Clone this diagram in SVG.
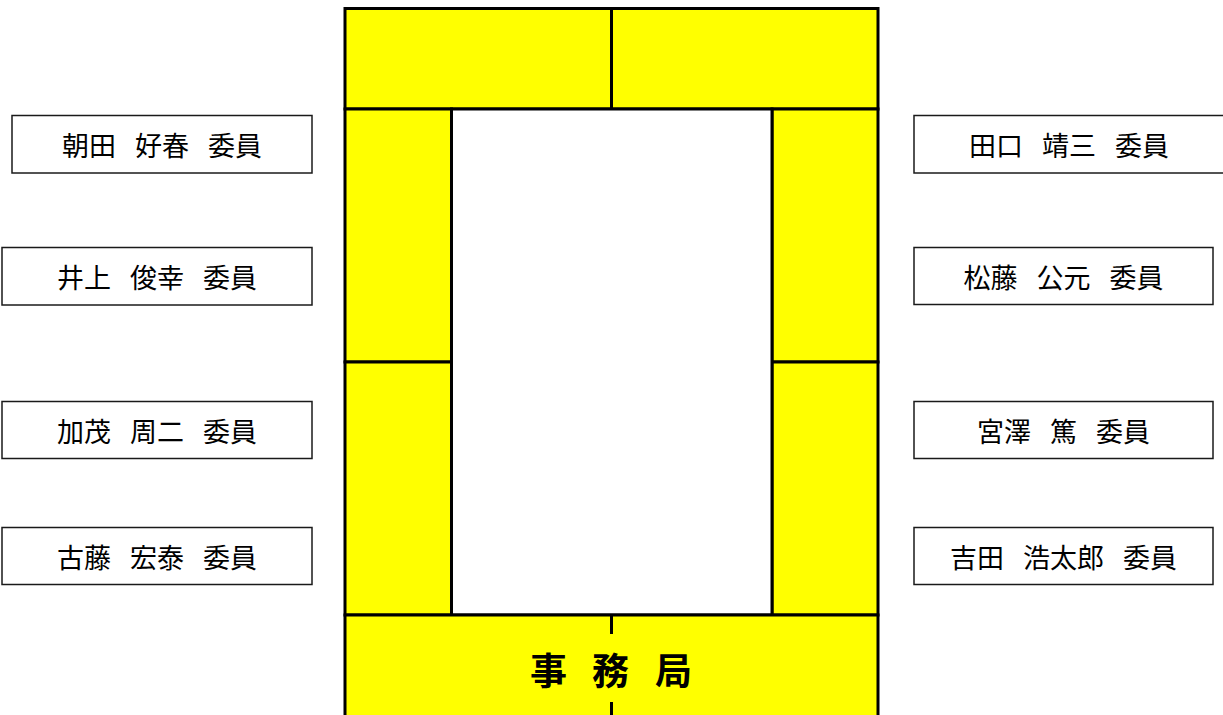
<svg xmlns="http://www.w3.org/2000/svg" width="1223" height="715" viewBox="0 0 1223 715">
<style>
.seat{fill:#FFFF00;stroke:#000;stroke-width:3}
.box{fill:#fff;stroke:#1a1a1a;stroke-width:1.5}
.lbl{font-family:"Noto Sans CJK JP","Noto Sans CJK SC",sans-serif;font-size:27px;fill:#000;text-anchor:middle;dominant-baseline:central}
.big{font-family:"Noto Sans CJK JP","Noto Sans CJK SC",sans-serif;font-size:37px;font-weight:bold;fill:#000;text-anchor:middle;dominant-baseline:central}
.dash{stroke:#000;stroke-width:3}
</style>
<rect width="1223" height="715" fill="#fff"/>
<g id="table">
<g id="top-left"><rect class="seat" x="345" y="8.5" width="266.5" height="100.5"/></g>
<g id="top-right"><rect class="seat" x="611.5" y="8.5" width="266.5" height="100.5"/></g>
<g id="left-upper"><rect class="seat" x="345" y="109" width="106.5" height="253"/></g>
<g id="left-lower"><rect class="seat" x="345" y="362" width="106.5" height="253"/></g>
<g id="right-upper"><rect class="seat" x="772" y="109" width="106" height="253"/></g>
<g id="right-lower"><rect class="seat" x="772" y="362" width="106" height="253"/></g>
<g id="center"><rect x="451.5" y="109" width="320.5" height="506" fill="#fff" stroke="#000" stroke-width="3"/></g>
<g id="secretariat">
<rect class="seat" x="345" y="615" width="533" height="110"/>
<line class="dash" x1="611.5" y1="615" x2="611.5" y2="634"/>
<line class="dash" x1="611.5" y1="702" x2="611.5" y2="715"/>
<text class="big" y="669"><tspan x="548.5">事</tspan><tspan x="610.5">務</tspan><tspan x="673.5">局</tspan></text>
</g>
</g>
<g id="connectors"></g>
<g id="member-asada"><rect class="box" x="12" y="115.5" width="300" height="57.5"/><text class="lbl" x="162" y="144">朝田<tspan dx="19">好春</tspan><tspan dx="19">委員</tspan></text></g>
<g id="member-inoue"><rect class="box" x="2" y="247.5" width="310" height="57.5"/><text class="lbl" x="157" y="276">井上<tspan dx="19">俊幸</tspan><tspan dx="19">委員</tspan></text></g>
<g id="member-kamo"><rect class="box" x="2" y="401.5" width="310" height="57"/><text class="lbl" x="157" y="430">加茂<tspan dx="19">周二</tspan><tspan dx="19">委員</tspan></text></g>
<g id="member-koto"><rect class="box" x="2" y="527.5" width="310" height="57"/><text class="lbl" x="157" y="556">古藤<tspan dx="19">宏泰</tspan><tspan dx="19">委員</tspan></text></g>
<g id="member-taguchi"><rect class="box" x="914" y="115.5" width="312" height="57.5"/><text class="lbl" x="1069" y="144">田口<tspan dx="19">靖三</tspan><tspan dx="19">委員</tspan></text></g>
<g id="member-matsufuji"><rect class="box" x="914" y="247.5" width="299" height="57"/><text class="lbl" x="1063.5" y="276">松藤<tspan dx="19">公元</tspan><tspan dx="19">委員</tspan></text></g>
<g id="member-miyazawa"><rect class="box" x="914" y="401.5" width="299" height="57"/><text class="lbl" x="1063.5" y="430">宮澤<tspan dx="19">篤</tspan><tspan dx="19">委員</tspan></text></g>
<g id="member-yoshida"><rect class="box" x="914" y="527.5" width="299" height="57"/><text class="lbl" x="1063.5" y="556">吉田<tspan dx="19">浩太郎</tspan><tspan dx="19">委員</tspan></text></g>
</svg>
